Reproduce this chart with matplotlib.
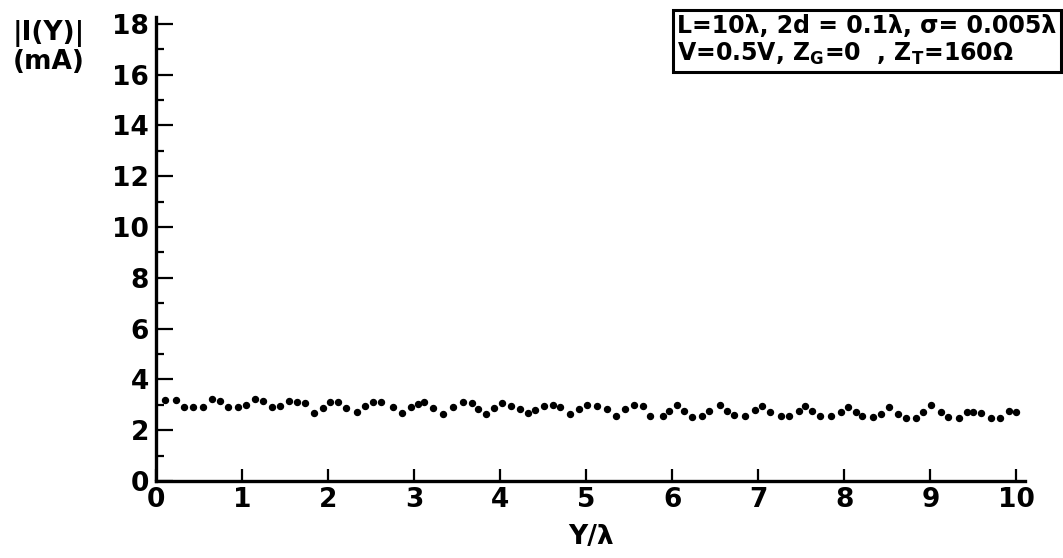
import matplotlib
matplotlib.use("Agg")
import matplotlib.pyplot as plt
from matplotlib.ticker import MultipleLocator

# |I(Y)|, Y in wavelengths
y_lambda = [0.10, 0.23, 0.33, 0.43, 0.55, 0.65, 0.74, 0.84, 0.95, 1.05,
            1.15, 1.24, 1.35, 1.44, 1.54, 1.64, 1.73, 1.84, 1.94, 2.02,
            2.11, 2.21, 2.33, 2.43, 2.52, 2.62, 2.75, 2.86, 2.96, 3.04,
            3.12, 3.22, 3.34, 3.45, 3.57, 3.67, 3.74, 3.83, 3.93, 4.02,
            4.12, 4.23, 4.32, 4.41, 4.51, 4.61, 4.70, 4.81, 4.91, 5.01,
            5.12, 5.24, 5.34, 5.45, 5.56, 5.66, 5.74, 5.89, 5.96, 6.06,
            6.14, 6.23, 6.34, 6.43, 6.56, 6.64, 6.72, 6.85, 6.96, 7.04,
            7.14, 7.26, 7.36, 7.47, 7.54, 7.62, 7.72, 7.84, 7.96, 8.04,
            8.13, 8.21, 8.33, 8.42, 8.52, 8.62, 8.72, 8.83, 8.91, 9.01,
            9.12, 9.21, 9.33, 9.42, 9.49, 9.59, 9.70, 9.81, 9.91, 10.00]
current_mA = [3.19, 3.19, 2.90, 2.91, 2.91, 3.23, 3.15, 2.91, 2.91, 2.99,
              3.23, 3.15, 2.91, 2.95, 3.15, 3.11, 3.07, 2.68, 2.87, 3.11,
              3.11, 2.87, 2.72, 2.95, 3.11, 3.11, 2.91, 2.68, 2.91, 3.03,
              3.11, 2.87, 2.64, 2.91, 3.11, 3.07, 2.83, 2.64, 2.87, 3.07,
              2.95, 2.83, 2.68, 2.80, 2.95, 2.99, 2.91, 2.64, 2.83, 2.99,
              2.95, 2.83, 2.56, 2.83, 2.99, 2.95, 2.56, 2.56, 2.76, 2.99,
              2.76, 2.52, 2.56, 2.76, 2.99, 2.76, 2.60, 2.56, 2.80, 2.95,
              2.72, 2.56, 2.56, 2.76, 2.95, 2.76, 2.56, 2.56, 2.72, 2.91,
              2.72, 2.56, 2.52, 2.64, 2.91, 2.64, 2.48, 2.48, 2.72, 2.99,
              2.72, 2.52, 2.48, 2.72, 2.72, 2.68, 2.48, 2.48, 2.76, 2.72]

xticks = list(range(0, 11))
yticks = list(range(0, 19, 2))

fig = plt.figure(figsize=(10.63, 5.58), dpi=100)
ax = fig.add_axes([0.1468, 0.138, 0.8175, 0.8315])

ax.plot(y_lambda, current_mA, linestyle="none", marker="o",
        markersize=4.3, color="black")

ax.set_xlim(0, 10.1)
ax.set_ylim(0, 18.27)
ax.set_xticks(xticks)
ax.set_yticks(yticks)
ax.yaxis.set_minor_locator(MultipleLocator(1))

for side in ("top", "right"):
    ax.spines[side].set_visible(False)
for side in ("left", "bottom"):
    ax.spines[side].set_linewidth(2.4)

ax.tick_params(axis="x", which="major", direction="in", length=9, width=1.6,
               pad=4, labelsize=19)
ax.tick_params(axis="y", which="major", direction="in", length=12, width=1.6,
               pad=5, labelsize=19)
ax.tick_params(axis="y", which="minor", direction="in", length=6, width=1.6)
for lab in ax.get_xticklabels() + ax.get_yticklabels():
    lab.set_fontweight("bold")

ax.set_xlabel("Y/λ", fontsize=19, fontweight="bold", labelpad=8)
fig.text(0.012, 0.965, "|I(Y)|\n(mA)", fontsize=19, fontweight="bold",
         va="top", ha="left", linespacing=1.1)

fig.text(0.994, 0.975,
         "L=10λ, 2d = 0.1λ, σ= 0.005λ\nV=0.5V, $\\mathbf{Z_G}$=0  , $\\mathbf{Z_T}$=160Ω",
         fontsize=17, fontweight="bold", va="top", ha="right",
         multialignment="left", linespacing=1.15,
         bbox=dict(boxstyle="square,pad=0.2", facecolor="white",
                   edgecolor="black", linewidth=2.2))

fig.savefig("out.png", dpi=100)
